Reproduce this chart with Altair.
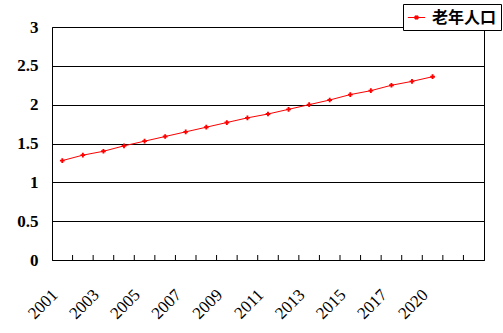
import altair as alt
import pandas as pd

# Category slots on the x axis (21 slots, 19 with data)
categories = [str(y) for y in range(2001, 2018)] + ["2018", "2020", " ", "  "]
shown_labels = ["2001", "2003", "2005", "2007", "2009", "2011", "2013", "2015", "2017", "2020"]
point_years = categories[:19]
values = [1.28, 1.35, 1.40, 1.47, 1.53, 1.59, 1.65, 1.71, 1.77, 1.83,
          1.88, 1.94, 2.00, 2.06, 2.13, 2.18, 2.25, 2.30, 2.36]
y_ticks = [0, 0.5, 1, 1.5, 2, 2.5, 3]
series_name = "老年人口"

df = pd.DataFrame({"year": point_years, "value": values, "series": series_name})
ticks_df = pd.DataFrame({"year": categories[1:]})

W, H = 432, 233

xscale = alt.Scale(domain=categories, paddingInner=0, paddingOuter=0)
yscale = alt.Scale(domain=[0, 3])

shown_js = "[" + ",".join("'%s'" % s for s in shown_labels) + "]"
x_axis = alt.Axis(labelExpr="indexof(%s, datum.label) >= 0 ? datum.label : ''" % shown_js,
                  labelAngle=-45, labelFontSize=17,
                  labelFont="Liberation Serif", labelColor="black",
                  labelPadding=32, labelOffset=-7, ticks=False, grid=False,
                  labelOverlap=False, labelBound=False, labelFlush=False,
                  domainColor="black", labelAlign="right", labelBaseline="middle")
y_axis = alt.Axis(values=y_ticks, format="~g",
                  labelFontSize=17, labelFont="Liberation Serif", labelFontWeight="bold",
                  labelColor="black", labelPadding=14, ticks=False, domain=False,
                  labelOverlap=False,
                  grid=True, gridColor="black", gridOpacity=1, gridWidth=1)

x_enc = alt.X("year:O", scale=xscale, title=None, axis=x_axis)
y_enc = alt.Y("value:Q", scale=yscale, title=None, axis=y_axis)

line = alt.Chart(df).mark_line(strokeWidth=1).encode(
    x=x_enc, y=y_enc,
    color=alt.Color("series:N", scale=alt.Scale(range=["#ff0000"]),
                    legend=alt.Legend(title=None, orient="none", legendX=351, legendY=-23,
                                      strokeColor="black", fillColor="white", padding=4,
                                      labelFont="Noto Sans CJK SC", labelFontSize=16,
                                      labelFontWeight="bold", labelColor="black",
                                      symbolType="M-1,0L1,0M-0.18,-0.18L0.18,-0.18L0.18,0.18L-0.18,0.18Z",
                                      symbolSize=300, symbolStrokeWidth=1,
                                      symbolFillColor="#ff0000", symbolStrokeColor="#ff0000",
                                      labelOffset=6)),
)
pts = alt.Chart(df).mark_point(shape="cross", filled=True, size=22, color="#ff0000", opacity=1).encode(
    x=x_enc, y=y_enc
)
tick_marks = alt.Chart(ticks_df).mark_rule(color="black", strokeWidth=1).encode(
    x=alt.X("year:O", scale=xscale, bandPosition=0, axis=x_axis, title=None),
    y=alt.value(H), y2=alt.value(H - 5),
)

chart = alt.layer(line, pts, tick_marks).properties(
    width=W, height=H,
    autosize=alt.AutoSizeParams(type="none"),
    padding={"left": 52, "top": 27, "right": 19, "bottom": 73},
    background="white",
).configure_view(stroke="black", strokeWidth=1)

chart.save("out.html", embed_options={"renderer": "svg", "actions": False})
